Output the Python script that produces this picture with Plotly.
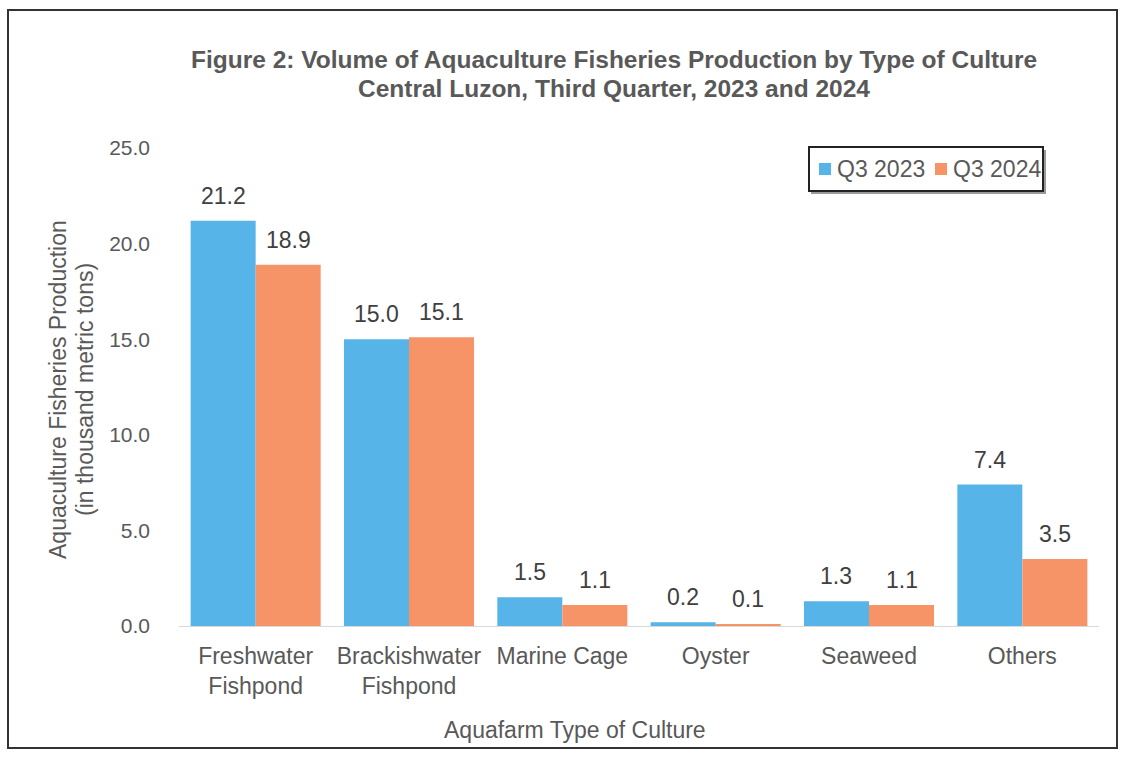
import plotly.graph_objects as go

# Aquaculture production by type of culture (thousand metric tons)
categories = ["Freshwater<br>Fishpond", "Brackishwater<br>Fishpond", "Marine Cage",
              "Oyster", "Seaweed", "Others"]
q3_2023 = [21.2, 15.0, 1.5, 0.2, 1.3, 7.4]
q3_2024 = [18.9, 15.1, 1.1, 0.1, 1.1, 3.5]
series_names = ["Q3 2023", "Q3 2024"]
y_ticks = [0, 5, 10, 15, 20, 25]

BLUE = "#56B4E9"
ORANGE = "#F79467"
TEXT = "#595959"
LABEL = "#404040"
FONT = "Liberation Sans, Arial, sans-serif"

W, H = 1121, 758
L, R, T, B = 179, 22, 148, 132
PW, PH = W - L - R, H - T - B


def px(x):
    """Pixel x -> paper x."""
    return (x - L) / PW


def py(y):
    """Pixel y (from top) -> paper y."""
    return (H - B - y) / PH


def text_at(x, y, text, size=23, angle=0, xanchor="center", weight_bold=False):
    return dict(x=px(x), y=py(y), xref="paper", yref="paper",
                text=f"<b>{text}</b>" if weight_bold else text,
                textangle=angle, showarrow=False,
                xanchor=xanchor, yanchor="middle",
                font=dict(size=size, color=TEXT, family=FONT))


BARGAP = 0.152
fig = go.Figure()
for name, vals, col in zip(series_names, [q3_2023, q3_2024], [BLUE, ORANGE]):
    fig.add_trace(go.Bar(x=categories, y=vals, name=name, marker_color=col,
                         marker_line_width=0, showlegend=False))

# value labels above each bar
slot = PW / len(categories)
half = slot * (1 - BARGAP) / 4
annotations = []
for vals, shift in zip([q3_2023, q3_2024], [-half, half]):
    for c, v in zip(categories, vals):
        annotations.append(dict(x=c, y=v, xref="x", yref="y", text=f"{v:.1f}",
                                showarrow=False, xshift=shift, yshift=25,
                                xanchor="center", yanchor="middle",
                                font=dict(size=23, color=LABEL, family=FONT)))

# title
annotations.append(text_at(614, 60, "Figure 2: Volume of Aquaculture Fisheries Production by Type of Culture",
                           size=24.5, weight_bold=True))
annotations.append(text_at(614, 88, "Central Luzon, Third Quarter, 2023 and 2024",
                           size=24.5, weight_bold=True))

# axis titles
annotations.append(text_at(58, 390, "Aquaculture Fisheries Production", angle=-90))
annotations.append(text_at(85, 390, "(in thousand metric tons)", angle=-90))
annotations.append(text_at(575, 730, "Aquafarm Type of Culture"))

# legend
shapes = []
shapes.append(dict(type="rect", xref="paper", yref="paper",
                   x0=px(811), x1=px(1046), y0=py(150), y1=py(194),
                   fillcolor="#9a9a9a", line=dict(width=0), layer="above"))
shapes.append(dict(type="rect", xref="paper", yref="paper",
                   x0=px(809), x1=px(1043), y0=py(147), y1=py(191),
                   fillcolor="white", line=dict(color="#222222", width=2), layer="above"))
for name, col, sx in zip(series_names, [BLUE, ORANGE], [819, 935]):
    shapes.append(dict(type="rect", xref="paper", yref="paper",
                       x0=px(sx), x1=px(sx + 12), y0=py(163), y1=py(175),
                       fillcolor=col, line=dict(width=0), layer="above"))
    annotations.append(text_at(sx + 16, 169, name, xanchor="left"))

# outer frame
shapes.append(dict(type="rect", xref="paper", yref="paper",
                   x0=px(8), x1=px(1117), y0=py(10), y1=py(748),
                   line=dict(color="#333333", width=2), layer="above"))

fig.update_layout(
    width=W, height=H,
    margin=dict(l=L, r=R, t=T, b=B, autoexpand=False),
    paper_bgcolor="white", plot_bgcolor="white",
    barmode="group", bargap=BARGAP, bargroupgap=0,
    font=dict(family=FONT, color=TEXT, size=23),
    annotations=annotations, shapes=shapes,
    xaxis=dict(showgrid=False, showline=True, linecolor="#d9d9d9", linewidth=1,
               ticks="", tickfont=dict(size=23, color=TEXT), ticklabelstandoff=9),
    yaxis=dict(range=[0, 25], tickvals=y_ticks, tickformat=".1f", showgrid=False,
               zeroline=False, showline=False, ticks="",
               tickfont=dict(size=21, color=TEXT), ticklabelstandoff=28),
)

fig.write_html("out.html")
